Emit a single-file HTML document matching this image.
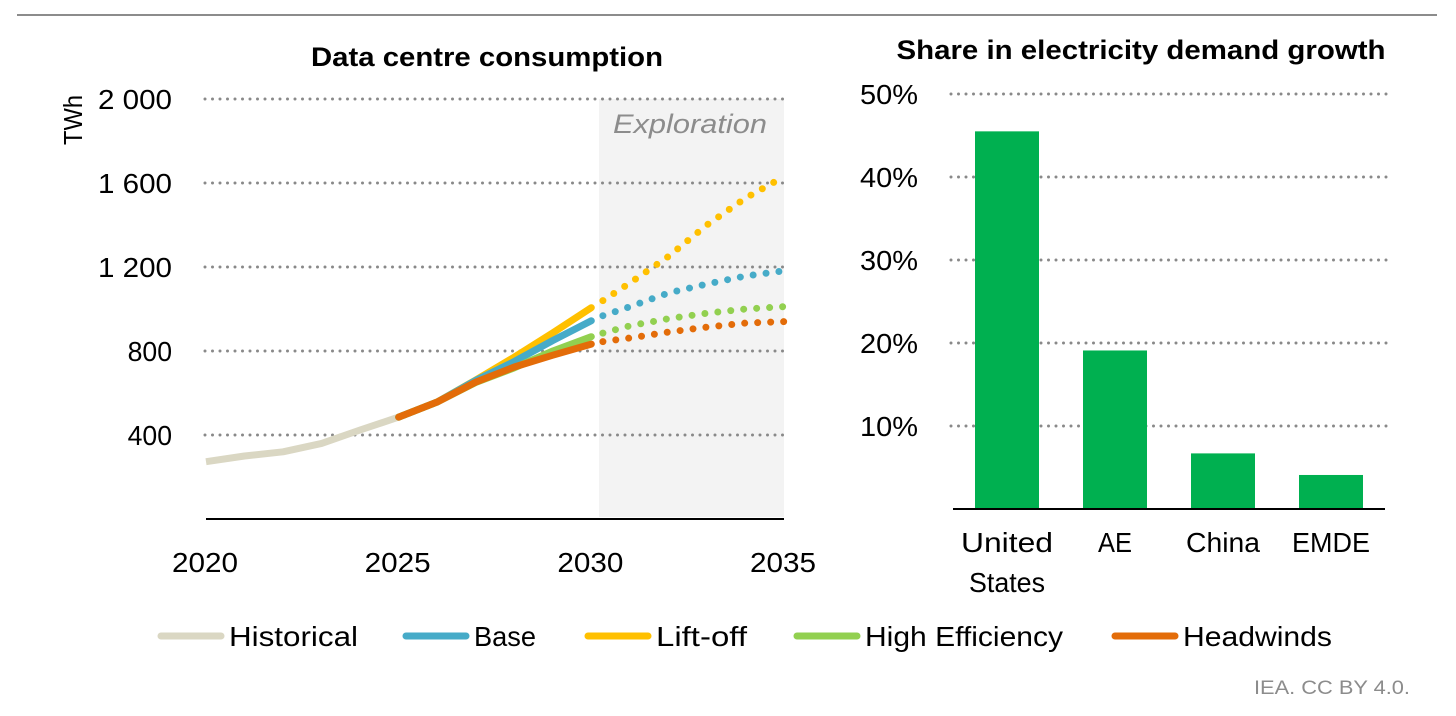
<!DOCTYPE html>
<html><head><meta charset="utf-8"><style>
html,body{margin:0;padding:0;background:#fff;}
svg{display:block;font-family:"Liberation Sans",sans-serif;}
</style></head><body>
<svg id="c" width="1456" height="716" viewBox="0 0 1456 716">
<line x1="17" y1="15" x2="1437" y2="15" stroke="#8c8c8c" stroke-width="2"/>
<text x="487" y="66" text-anchor="middle" font-size="27" font-weight="bold" textLength="352" lengthAdjust="spacingAndGlyphs">Data centre consumption</text>
<text x="1141" y="59" text-anchor="middle" font-size="27" font-weight="bold" textLength="489" lengthAdjust="spacingAndGlyphs">Share in electricity demand growth</text>
<text transform="translate(82,120) rotate(-90)" text-anchor="middle" font-size="26" textLength="50" lengthAdjust="spacingAndGlyphs">TWh</text>
<g id="left"></g>
<g id="right"></g>
<g id="legend"></g>
<text x="1410" y="694" text-anchor="end" font-size="19" fill="#8c8c8c" textLength="156" lengthAdjust="spacingAndGlyphs">IEA. CC BY 4.0.</text>
</svg>
<script>
const NS="http://www.w3.org/2000/svg";
const yTicks=[400,800,1200,1600,2000];
const yTickLabels=["400","800","1 200","1 600","2 000"];
const xTicks=[2020,2025,2030,2035];
const histYears=[2020,2021,2022,2023,2024,2025];
const histVals=[273,300,320,360,424,485];
const scenYears=[2025,2026,2027,2028,2029,2030];
const baseVals=[485,557,660,750,850,944];
const liftVals=[485,557,662,771,886,1006];
const effVals=[485,557,650,720,800,868];
const headVals=[485,557,652,724,780,833];
const explYears=[2030.3,2031,2032,2033,2034,2035];
const baseExpl=[968,1011,1076,1119,1157,1182];
const liftExpl=[1040,1124,1250,1400,1528,1630];
const effExpl=[885,920,954,980,1000,1011];
const headExpl=[845,862,890,914,933,940];
const barCats=["United States","AE","China","EMDE"];
const barVals=[45.5,19.1,6.7,4.1];
const pctTicks=[10,20,30,40,50];

function el(tag,attrs,parent){const e=document.createElementNS(NS,tag);for(const k in attrs)e.setAttribute(k,attrs[k]);parent.appendChild(e);return e;}
const X=y=>206+(y-2020)*(784-206)/15;
const Y=v=>519-v*84/400;
const L=document.getElementById('left');
let sh=el('rect',{x:599,y:99,width:185,height:418,fill:'#f3f3f3'},L);


let et=el('text',{x:690,y:133,'text-anchor':'middle','font-size':27,'font-style':'italic',fill:'#8c8c8c',textLength:154,lengthAdjust:'spacingAndGlyphs'},L);et.textContent='Exploration';


yTicks.forEach((t,i)=>{
 let g=el('line',{x1:205,x2:786,y1:Y(t),y2:Y(t),stroke:'#898989','stroke-width':3,'stroke-dasharray':'0 7.5','stroke-linecap':'round'},L);
 
 
 let tx=el('text',{x:172,y:Y(t)+10,'text-anchor':'end','font-size':28,textLength:yTickLabels[i].length*14.8,lengthAdjust:'spacingAndGlyphs'},L);tx.textContent=yTickLabels[i];
 
 
});
let ax=el('line',{x1:206,x2:784,y1:519,y2:519,stroke:'#000','stroke-width':2},L);


xTicks.forEach(t=>{let tx=el('text',{x:X(t)-1,y:572,'text-anchor':'middle','font-size':28,textLength:66,lengthAdjust:'spacingAndGlyphs'},L);tx.textContent=t;
 
 });
function pts(xs,vs){return xs.map((x,i)=>X(x).toFixed(1)+','+Y(vs[i]).toFixed(1)).join(' ');}
function solid(xs,vs,c,name,cap){let p=el('polyline',{points:pts(xs,vs),fill:'none',stroke:c,'stroke-width':7,'stroke-linejoin':'round','stroke-linecap':cap},L);
 
 }
function dotted(xs,vs,c,name){let p=el('polyline',{points:pts(xs,vs),fill:'none',stroke:c,'stroke-width':7,'stroke-dasharray':'0 13','stroke-linecap':'round'},L);
 
 }
solid(histYears,histVals,'#dad7c3','historical-line','butt');
solid(scenYears,liftVals,'#ffc000','liftoff-line','round');
solid(scenYears,baseVals,'#46abc8','base-line','round');
solid(scenYears,effVals,'#92d050','high-efficiency-line','round');
solid(scenYears,headVals,'#e36c09','headwinds-line','round');
dotted(explYears,liftExpl,'#ffc000','liftoff-exploration');
dotted(explYears,baseExpl,'#46abc8','base-exploration');
dotted(explYears,effExpl,'#92d050','high-efficiency-exploration');
dotted(explYears,headExpl,'#e36c09','headwinds-exploration');

const R=document.getElementById('right');
const BY=v=>509-v*8.3;
const bandW=108,bx0=953;
pctTicks.forEach(t=>{
 let g=el('line',{x1:951,x2:1390,y1:BY(t),y2:BY(t),stroke:'#898989','stroke-width':3,'stroke-dasharray':'0 7.5','stroke-linecap':'round'},R);
 
 
 let tx=el('text',{x:918,y:BY(t)+10,'text-anchor':'end','font-size':28,textLength:58,lengthAdjust:'spacingAndGlyphs'},R);tx.textContent=t+'%';
 
 
});
const catW={United:92,States:76,AE:34,China:74,EMDE:78};
barCats.forEach((c,i)=>{
 const cx=bx0+bandW*(i+0.5);
 let b=el('rect',{x:cx-32,y:BY(barVals[i]),width:64,height:509-BY(barVals[i]),fill:'#00b050'},R);
 
 
 const words=c==='United States'?['United','States']:[c];
 words.forEach((w,j)=>{let tx=el('text',{x:cx,y:552+j*40,'text-anchor':'middle','font-size':28,textLength:catW[w]||w.length*16,lengthAdjust:'spacingAndGlyphs'},R);tx.textContent=w;
  
  });
});
let bax=el('line',{x1:953,x2:1385,y1:509,y2:509,stroke:'#000','stroke-width':2},R);



const G=document.getElementById('legend');
const legNames=['Historical','Base','Lift-off','High Efficiency','Headwinds'];
const legColors=['#dad7c3','#46abc8','#ffc000','#92d050','#e36c09'];
const legX=[158,403,585,794,1112];
const legW=[129,62,91,198,149];
legNames.forEach((n,i)=>{
 let s=el('line',{x1:legX[i]+3,x2:legX[i]+63,y1:636,y2:636,stroke:legColors[i],'stroke-width':7,'stroke-linecap':'round'},G);
 
 
 let t=el('text',{x:legX[i]+71,y:646,'font-size':28,textLength:legW[i],lengthAdjust:'spacingAndGlyphs'},G);t.textContent=n;
 
 
});
</script>
</body></html>
